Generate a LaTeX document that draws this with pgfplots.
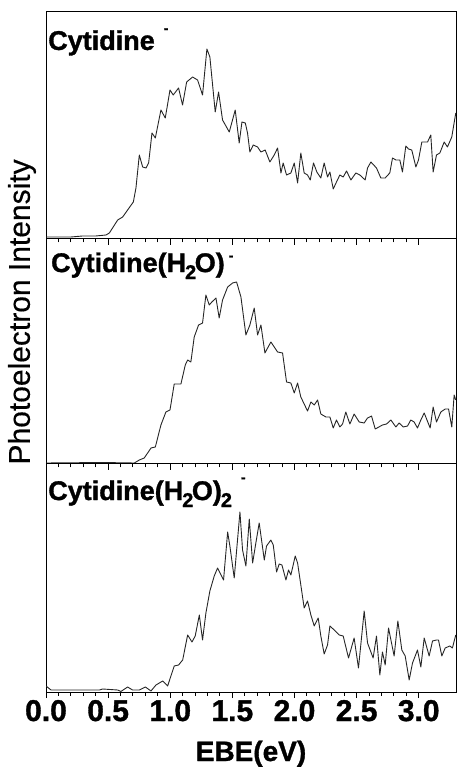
\documentclass[border=0pt]{standalone}
\usepackage{fontspec}
\setmainfont{Liberation Sans}
\newfontfamily\heavy{Liberation Sans Bold}[FakeBold=1.2]
\newfontfamily\medium{Liberation Sans}[FakeBold=0.4]
\usepackage{pgfplots}
\pgfplotsset{compat=1.18}

% one panel of the stack; y values are heights above the panel floor
\pgfplotsset{
  spec/.style={
    scale only axis, width=410pt,
    xmin=0, xmax=3.3, ymin=0,
    axis line style={line width=1pt, black},
    xtick={0,0.5,...,3.0}, minor x tick num=4,
    xtick pos=bottom, ytick=\empty,
    tick align=outside,
    major tick length=6pt, minor tick length=3.5pt,
    every tick/.style={black, line width=1pt},
    xticklabels=\empty,
    clip=true,
  },
  curve/.style={line width=0.9pt, black!85, line join=round, no marks},
}
\tikzset{lab/.style={anchor=base west, inner sep=0pt, font=\heavy\fontsize{27}{27}\selectfont}}
\newcommand{\sub}[1]{\raisebox{-7pt}{\fontsize{20}{20}\selectfont #1}}
\newcommand{\anion}[1]{\raisebox{#1}{\fontsize{14}{14}\selectfont -}}

\begin{document}
\begin{tikzpicture}
\useasboundingbox (0,0) rectangle (456pt,767pt);

% top: Cytidine-
\begin{axis}[spec, at={(46pt,528pt)}, anchor=south west, height=227pt, ymax=227]
\addplot[curve] table {
0.000 2
0.100 2
0.200 2
0.295 3
0.350 3
0.400 3
0.483 4
0.510 6
0.577 19
0.617 22
0.657 29
0.703 37
0.724 51
0.751 84
0.778 72
0.805 71
0.826 76
0.853 106
0.880 101
0.925 129
0.960 121
0.998 149
1.024 144
1.067 151
1.099 134
1.132 157
1.180 162
1.220 159
1.260 144
1.295 190
1.319 182
1.362 127
1.389 147
1.421 119
1.475 107
1.523 129
1.555 96
1.577 117
1.604 116
1.622 106
1.641 87
1.668 94
1.703 92
1.730 87
1.764 89
1.802 77
1.837 84
1.864 91
1.891 66
1.909 76
1.936 64
1.971 66
1.998 76
2.025 56
2.051 86
2.078 66
2.105 64
2.127 59
2.153 76
2.180 67
2.212 61
2.239 76
2.266 62
2.285 67
2.312 50
2.338 57
2.365 64
2.392 62
2.419 68
2.454 59
2.494 66
2.526 64
2.569 59
2.588 71
2.615 77
2.660 71
2.695 61
2.730 61
2.767 66
2.789 81
2.816 79
2.848 79
2.869 67
2.896 93
2.918 90
2.944 89
2.977 72
2.998 79
3.025 97
3.071 97
3.097 104
3.116 67
3.143 84
3.170 86
3.205 97
3.231 92
3.266 102
3.298 126
};
\node[lab] at (axis description cs:0.005,0.833) {Cytidine\hspace{9pt}\anion{17pt}};
\end{axis}

% middle: Cytidine(H2O)-
\begin{axis}[spec, at={(46pt,303pt)}, anchor=south west, height=225pt, ymax=225,
  ylabel={Photoelectron Intensity},
  ylabel style={font=\medium\fontsize{30}{30}\selectfont, at={(axis description cs:-0.0585,0.676)}, anchor=center},
]
\addplot[curve] table {
0.000 1
0.456 1.5
0.711 1
0.751 4
0.791 6
0.845 16
0.880 17
0.925 39
0.965 52
0.998 54
1.032 80
1.086 80
1.121 99
1.140 104
1.166 102
1.193 127
1.228 139
1.260 141
1.287 169
1.314 159
1.335 162
1.368 166
1.394 146
1.421 164
1.462 177
1.502 181
1.534 182
1.569 167
1.609 129
1.641 139
1.676 156
1.703 129
1.730 139
1.762 111
1.810 122
1.864 112
1.904 111
1.936 82
1.971 81
1.998 71
2.025 81
2.051 67
2.105 53
2.132 62
2.159 59
2.186 64
2.212 50
2.253 47
2.285 47
2.312 36
2.338 44
2.365 37
2.387 40
2.413 52
2.446 40
2.480 50
2.521 42
2.561 41
2.588 46
2.620 48
2.650 35
2.708 39
2.741 40
2.776 44
2.816 37
2.842 41
2.875 37
2.910 38
2.936 44
2.963 42
2.990 36
3.017 44
3.044 51
3.092 36
3.116 57
3.143 42
3.178 52
3.213 55
3.240 55
3.266 37
3.285 69
3.298 64
};
\node[lab] at (axis description cs:0.012,0.853) {Cytidine(H\kern-1pt\sub{2}\kern-1.5pt O)\hspace{4pt}\anion{12pt}};
\end{axis}

% bottom: Cytidine(H2O)2-
\begin{axis}[spec, at={(46pt,75pt)}, anchor=south west, height=228pt, ymax=228,
  xticklabels={0.0,0.5,1.0,1.5,2.0,2.5,3.0},
  xticklabel style={font=\heavy\fontsize{30}{30}\selectfont, anchor=base, yshift=-23pt},
  xlabel={EBE(eV)},
  xlabel style={font=\heavy\fontsize{28}{28}\selectfont, at={(axis description cs:0.5,0)}, anchor=base, yshift=-69pt},
]
\addplot[curve] table {
0.000 6
0.040 2
0.430 2
0.456 3
0.577 2
0.603 0.5
0.657 5
0.697 2
0.751 2
0.800 5
0.845 1
0.885 7
0.939 11
0.979 6
1.032 26
1.067 27
1.100 32
1.140 57
1.175 50
1.201 56
1.234 77
1.260 52
1.287 79
1.319 101
1.354 116
1.381 124
1.429 112
1.462 160
1.480 146
1.515 114
1.561 180
1.582 142
1.609 126
1.636 173
1.663 129
1.689 149
1.716 169
1.757 132
1.775 146
1.810 152
1.829 147
1.856 120
1.877 128
1.899 127
1.931 112
1.952 122
1.971 117
2.006 136
2.025 129
2.051 107
2.078 84
2.105 91
2.132 77
2.159 66
2.191 74
2.212 56
2.239 38
2.266 47
2.285 66
2.320 62
2.360 57
2.392 56
2.435 34
2.480 54
2.515 24
2.561 81
2.588 49
2.633 34
2.660 56
2.687 17
2.708 40
2.730 27
2.757 64
2.802 36
2.832 71
2.864 42
2.891 36
2.923 12
2.950 29
2.990 42
3.017 25
3.044 54
3.084 36
3.111 51
3.143 52
3.159 52
3.186 36
3.213 44
3.250 46
3.271 44
3.298 57
};
\node[lab] at (axis description cs:0.005,0.842) {Cytidine(H\kern-1pt\sub{2}\kern-1.5pt O)\kern-1pt\sub{2}\hspace{9pt}\anion{18pt}};
\end{axis}
\end{tikzpicture}
\end{document}
